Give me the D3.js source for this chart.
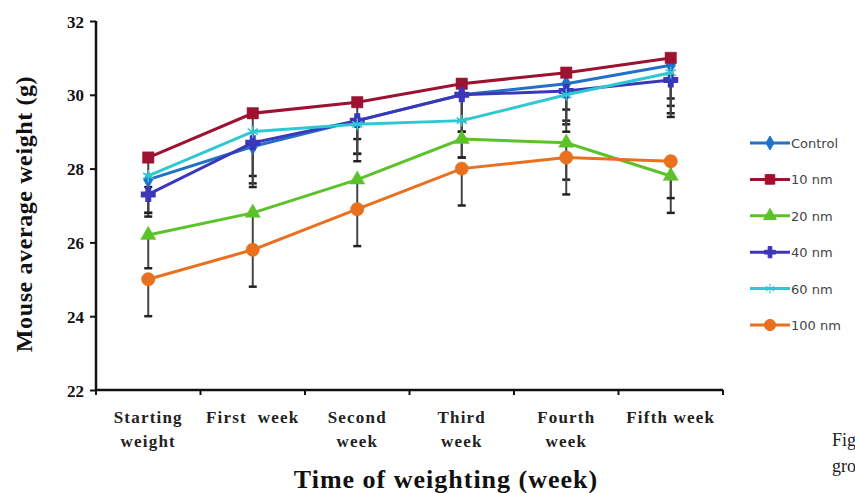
<!DOCTYPE html>
<html><head><meta charset="utf-8">
<script src="https://cdn.jsdelivr.net/npm/d3@7"></script>
<style>body{margin:0;background:#fff}svg{display:block}</style>
</head><body><svg id="c" width="855" height="493"></svg>
<script>
const categories = ["Starting weight","First week","Second week","Third week","Fourth week","Fifth week"];
const catLines = [["Starting","weight"],["First  week"],["Second","week"],["Third","week"],["Fourth","week"],["Fifth week"]];
const seriesNames = ["Control","10 nm","20 nm","40 nm","60 nm","100 nm"];
const control = [27.7, 28.6, 29.3, 30.0, 30.3, 30.8];
const nm10    = [28.3, 29.5, 29.8, 30.3, 30.6, 31.0];
const nm20    = [26.2, 26.8, 27.7, 28.8, 28.7, 27.8];
const nm40    = [27.3, 28.7, 29.3, 30.0, 30.1, 30.4];
const nm60    = [27.8, 29.0, 29.2, 29.3, 30.0, 30.6];
const nm100   = [25.0, 25.8, 26.9, 28.0, 28.3, 28.2];
const errControl = [0.9, 1.0, 0.9, 1.0, 1.0, 1.1];
const err10      = [0.8, 0.9, 1.0, 1.0, 1.0, 1.1];
const err20      = [0.9, 0.9, 0.8, 0.5, 1.0, 1.0];
const err40      = [0.6, 0.9, 0.9, 1.0, 0.9, 0.9];
const err60      = [1.0, 1.5, 1.0, 1.0, 1.0, 1.2];
const err100     = [1.0, 1.0, 1.0, 1.0, 1.0, 1.0];
const yTicks = [22, 24, 26, 28, 30, 32];

const colors = ["#2270c8","#9c1230","#5cc22a","#3c36b8","#2ec8d2","#e8701e"];
const symbols = [d3.symbolDiamond, d3.symbolSquare, d3.symbolTriangle, d3.symbolCross, d3.symbolAsterisk, d3.symbolCircle];
const values = [control, nm10, nm20, nm40, nm60, nm100];
const errs = [errControl, err10, err20, err40, err60, err100];

const svg = d3.select("#c");
const x = d3.scaleBand().domain(categories).range([96, 723]);
const y = d3.scaleLinear().domain([22, 32]).range([390, 21]);
const serif = "'Liberation Serif','DejaVu Serif',serif";

// Y axis
const yAxis = svg.append("g").attr("transform","translate(96,0)")
  .call(d3.axisLeft(y).tickValues(yTicks).tickSize(6).tickPadding(6).tickFormat(d3.format("d")));
yAxis.select(".domain").attr("stroke","#111").attr("stroke-width",2.5).attr("d","M0,21V390");
yAxis.selectAll(".tick line").attr("stroke","#111").attr("stroke-width",2);
yAxis.selectAll(".tick text").attr("font-family",serif).attr("font-weight","bold").attr("font-size",17).attr("fill","#111").attr("dy","0.36em");

// X axis
const xAxis = svg.append("g").attr("transform","translate(0,390)");
xAxis.append("line").attr("x1",96).attr("x2",723).attr("stroke","#111").attr("stroke-width",2.5);
const bounds = categories.map(c => x(c)).concat([x(categories[categories.length-1]) + x.bandwidth()]);
xAxis.selectAll("line.tk").data(bounds).enter().append("line").attr("class","tk")
  .attr("x1",d=>d).attr("x2",d=>d).attr("y1",0).attr("y2",5).attr("stroke","#111").attr("stroke-width",2);
const lbl = xAxis.selectAll("text.cat").data(categories).enter().append("text").attr("class","cat")
  .attr("x", d => x(d) + x.bandwidth()/2).attr("y", 33)
  .attr("text-anchor","middle").attr("font-family",serif).attr("font-weight","bold").attr("font-size",17)
  .attr("letter-spacing",1.2).attr("fill","#222");
lbl.each(function(d,i){
  const t = d3.select(this);
  catLines[i].forEach((s,j)=>{ t.append("tspan").attr("x", x(d)+x.bandwidth()/2).attr("dy", j===0?0:24).attr("xml:space","preserve").text(s); });
});

// Titles
svg.append("text").attr("x",446).attr("y",488).attr("text-anchor","middle")
  .attr("font-family",serif).attr("font-weight","bold").attr("font-size",26).attr("letter-spacing",1).attr("fill","#111")
  .text("Time of weighting (week)");
svg.append("text").attr("transform","translate(32,214) rotate(-90)").attr("text-anchor","middle")
  .attr("font-family",serif).attr("font-weight","bold").attr("font-size",24).attr("letter-spacing",0.6).attr("fill","#111")
  .text("Mouse average weight (g)");

// Error bars (lower half, drawn behind lines)
const cx = c => x(c) + x.bandwidth()/2;
values.forEach((vals,si)=>{
  const g = svg.append("g");
  vals.forEach((v,i)=>{
    const e = errs[si][i], X = cx(categories[i]);
    g.append("line").attr("x1",X).attr("x2",X).attr("y1",y(v-e)).attr("y2",y(v)).attr("stroke","#444").attr("stroke-width",2);
    g.append("line").attr("x1",X-4).attr("x2",X+4).attr("y1",y(v-e)).attr("y2",y(v-e)).attr("stroke","#222").attr("stroke-width",2.5);
  });
});

// Lines and markers
const line = d3.line().x((d,i)=>cx(categories[i])).y(d=>y(d));
const sizes = [80, 130, 100, 100, 100, 140];
values.forEach((vals,si)=>{
  svg.append("path").attr("d", line(vals)).attr("fill","none").attr("stroke",colors[si]).attr("stroke-width",3);
  svg.selectAll(null).data(vals).enter().append("path")
    .attr("transform",(d,i)=>`translate(${cx(categories[i])},${y(d)})`)
    .attr("d", d3.symbol().type(symbols[si]).size(sizes[si]))
    .attr("fill", colors[si]).attr("stroke", colors[si]).attr("stroke-width", si===3||si===4 ? 1.5 : 0.5);
});

// Legend
const leg = svg.append("g");
seriesNames.forEach((n,i)=>{
  const yy = 143 + i*36.4;
  leg.append("line").attr("x1",750).attr("x2",790).attr("y1",yy).attr("y2",yy).attr("stroke",colors[i]).attr("stroke-width",3);
  leg.append("path").attr("transform",`translate(770,${yy})`).attr("d", d3.symbol().type(symbols[i]).size(sizes[i]*0.7))
    .attr("fill",colors[i]).attr("stroke",colors[i]).attr("stroke-width",1);
  leg.append("text").attr("x",791).attr("y",yy+5).attr("font-family","'DejaVu Sans',Verdana,sans-serif")
    .attr("font-size",13).attr("fill","#444").text(n);
});

// Caption fragments
svg.append("text").attr("x",832).attr("y",446).attr("font-family",serif).attr("font-size",18).attr("fill","#222").text("Fig");
svg.append("text").attr("x",832).attr("y",472).attr("font-family",serif).attr("font-size",18).attr("fill","#222").text("gro");
</script></body></html>
